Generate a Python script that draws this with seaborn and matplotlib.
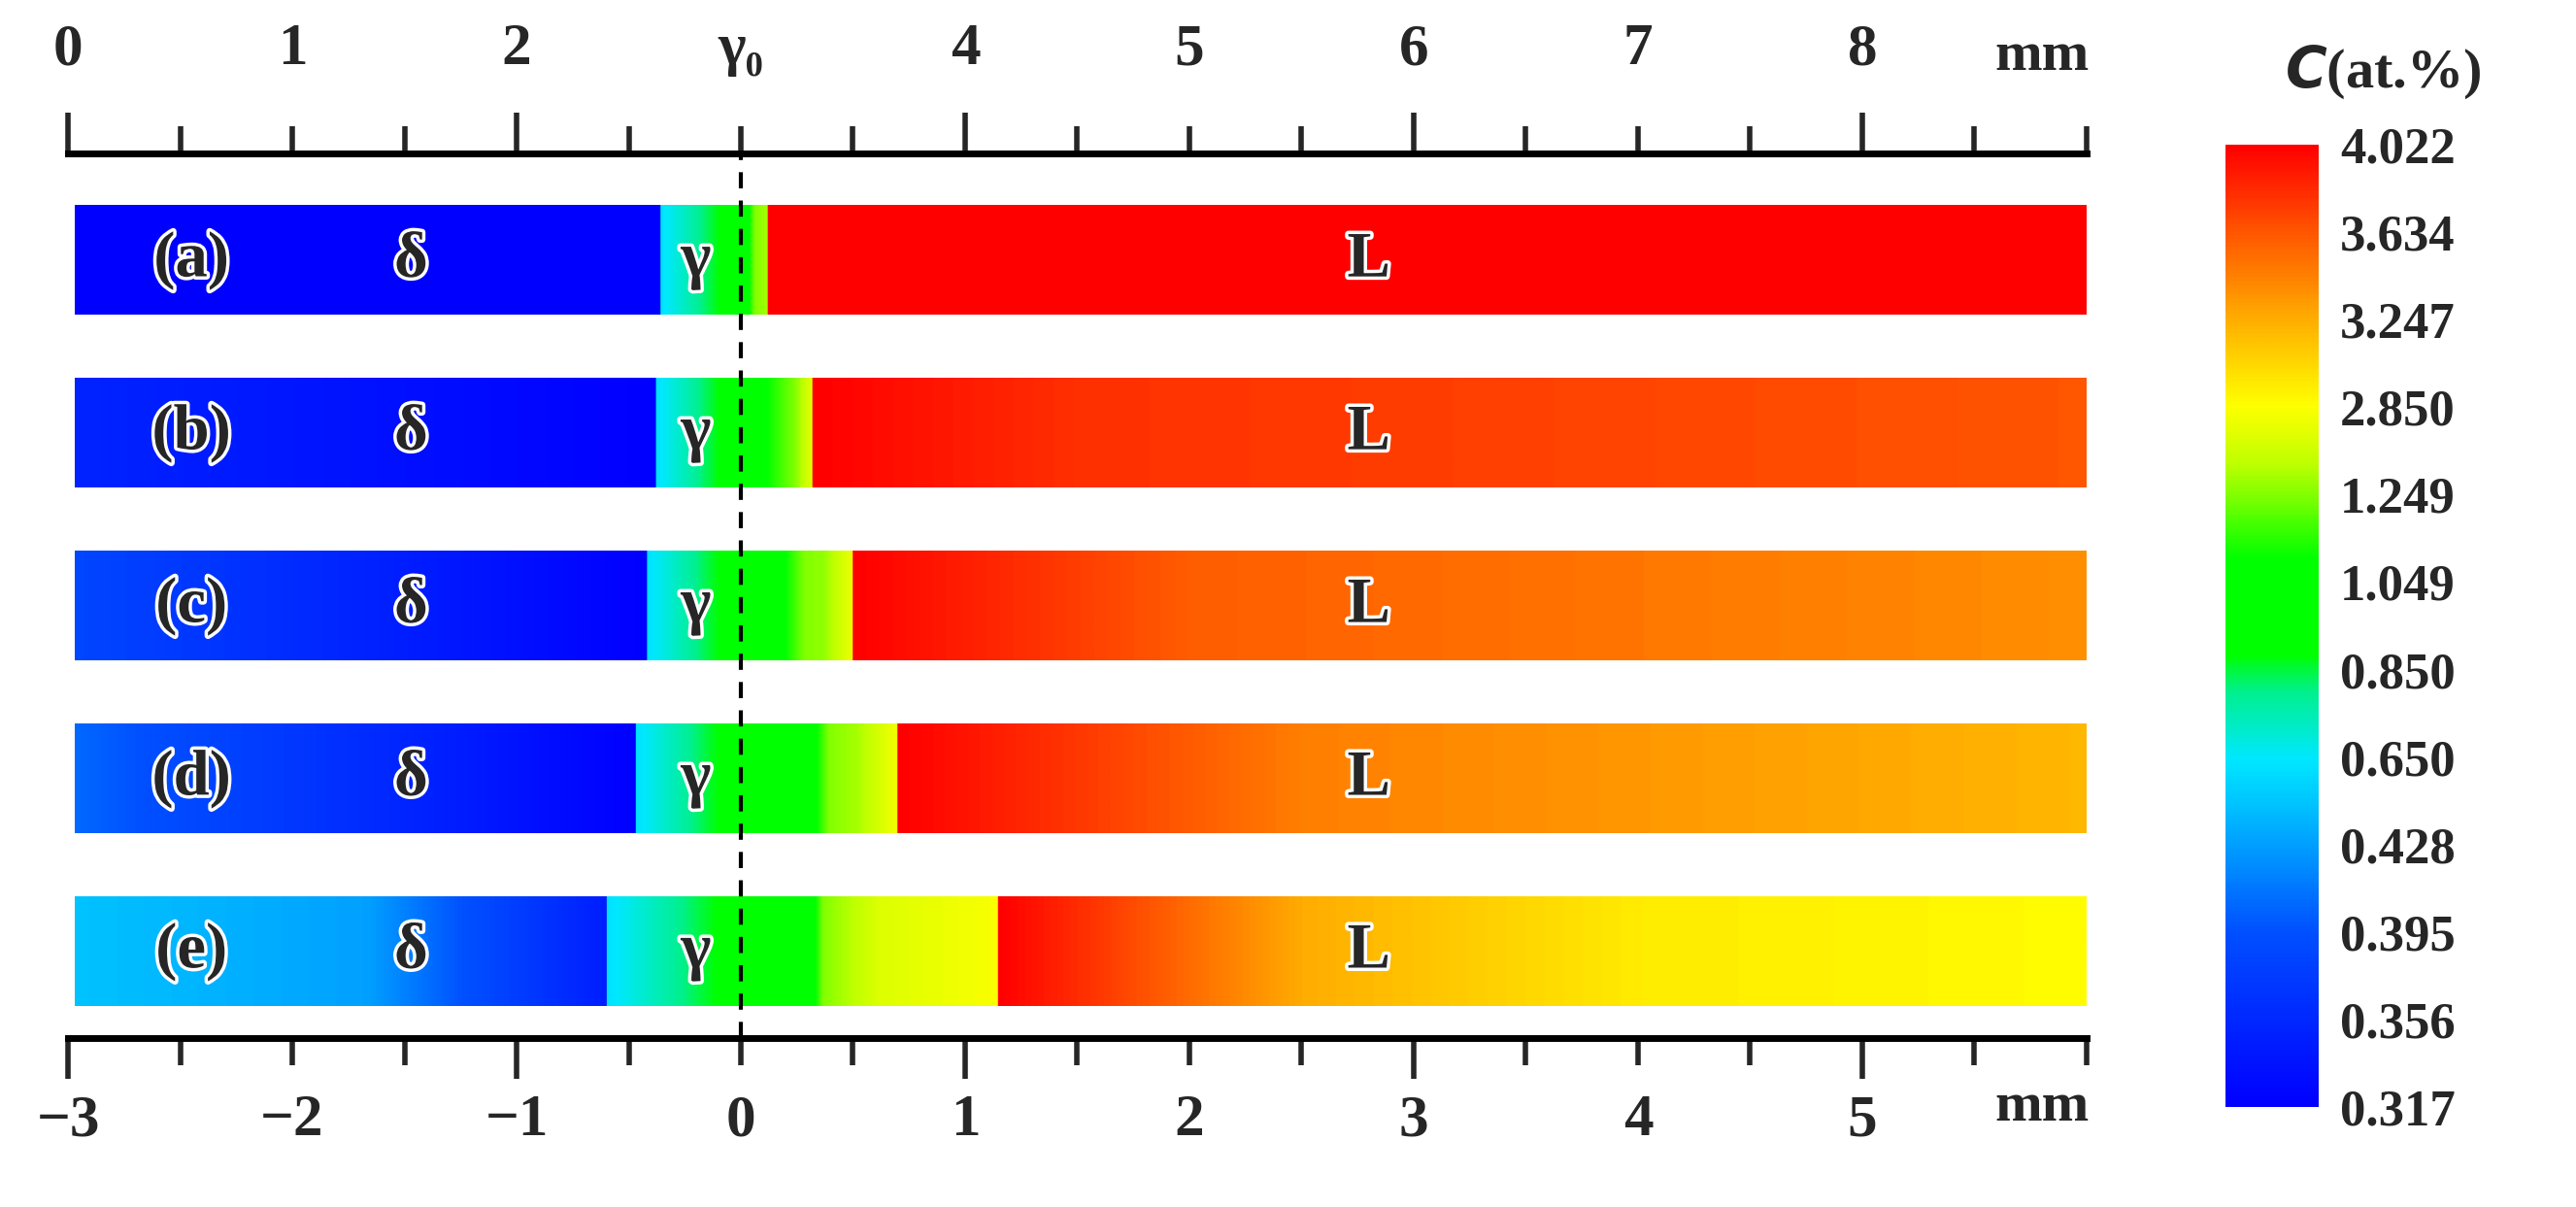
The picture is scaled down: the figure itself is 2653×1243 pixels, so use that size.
import numpy as np
import seaborn as sns
import matplotlib.pyplot as plt
import matplotlib.patheffects as pe
from matplotlib.colors import LinearSegmentedColormap

sns.set_theme(style="white")
plt.rcParams['font.family'] = ['Liberation Serif', 'DejaVu Serif']
plt.rcParams['font.weight'] = 'bold'

# colorbar tick values (unevenly spaced, equal spacing on the bar)
cbar_levels = [0.317, 0.356, 0.395, 0.428, 0.650, 0.850, 1.049, 1.249, 2.850, 3.247, 3.634, 4.022]

panels = ['(a)', '(b)', '(c)', '(d)', '(e)']

# concentration knots along each bar (x in mm, C in at.%), phase boundaries repeated
bar_x = [
    [-3.0, -0.38, -0.38, -0.1, 0.0, 0.1, 0.1, 6.0],
    [-3.0, -0.40, -0.40, -0.1, 0.05, 0.22, 0.30, 0.30, 1.5, 6.0],
    [-3.0, -0.44, -0.44, -0.1, 0.15, 0.35, 0.48, 0.48, 2.0, 6.0],
    [-3.0, -0.49, -0.49, -0.1, 0.30, 0.50, 0.68, 0.68, 2.5, 6.0],
    [-3.0, -0.62, -0.62, -0.1, 0.30, 0.60, 1.13, 1.13, 2.5, 4.0, 6.0],
]
bar_c = [
    [0.317, 0.317, 0.62, 0.90, 1.00, 1.60, 4.022, 4.022],
    [0.352, 0.317, 0.62, 0.90, 1.05, 1.25, 2.50, 4.022, 3.80, 3.634],
    [0.385, 0.317, 0.62, 0.90, 1.05, 1.40, 2.60, 4.022, 3.60, 3.38],
    [0.405, 0.317, 0.62, 0.90, 1.05, 1.60, 2.70, 4.022, 3.45, 3.20],
    [0.530, 0.345, 0.62, 0.90, 1.05, 2.30, 2.80, 4.022, 3.25, 2.95, 2.87],
]

cmap = LinearSegmentedColormap.from_list('cbar', [
    (0.00, '#0000ff'), (0.18, '#0050ff'), (0.30, '#00b8ff'), (0.36, '#00e8ff'),
    (0.43, '#00f090'), (0.47, '#00ff00'), (0.57, '#00ff00'), (0.67, '#c0ff00'),
    (0.73, '#ffff00'), (0.80, '#ffc000'), (0.90, '#ff6000'), (1.00, '#ff0000')])
lvl_idx = np.arange(len(cbar_levels))


def to_level(c):
    return np.interp(c, cbar_levels, lvl_idx) / lvl_idx[-1]


fig = plt.figure(figsize=(26.53, 12.43), dpi=100)
ax = fig.add_axes([0.0264, 0.14, 0.7836, 0.733])
ax.set_xlim(-3, 6)
ax.set_ylim(4.50, -0.62)

xs = np.linspace(-3, 6, 1800)
stroke = [pe.withStroke(linewidth=5, foreground='white')]
for i, name in enumerate(panels):
    c = np.interp(xs, bar_x[i], bar_c[i])
    img = cmap(to_level(c))[np.newaxis, :, :]
    ax.imshow(img, extent=(-2.97, 6, i + 0.315, i - 0.315), aspect='auto',
              interpolation='bilinear', zorder=1)
    ax.text(-2.45, i, name, fontsize=48, ha='center', va='center',
            path_effects=stroke, zorder=4)
    ax.text(-1.47, i, 'δ', fontsize=48, ha='center', va='center',
            path_effects=stroke, zorder=4)
    ax.text(-0.2, i, 'γ', fontsize=48, ha='center', va='center',
            path_effects=stroke, zorder=4)
    ax.text(2.8, i, 'L', fontsize=48, ha='center', va='center',
            path_effects=stroke, zorder=4)

ax.axvline(0, color='black', lw=3, ls=(0, (4, 3)), zorder=3)

for s in ['left', 'right']:
    ax.spines[s].set_visible(False)
for s in ['top', 'bottom']:
    ax.spines[s].set_linewidth(5)
    ax.spines[s].set_color('black')
ax.set_yticks([])

# bottom axis
ax.set_xticks([-3, -1, 1, 3, 5])
ax.set_xticks(np.arange(-3, 6.01, 0.5), minor=True)
ax.set_xticklabels([])
ax.tick_params(axis='x', which='major', direction='out', length=30, width=4,
               bottom=True, top=False)
ax.tick_params(axis='x', which='minor', direction='out', length=20, width=4,
               bottom=True, top=False)
for v in range(-3, 6):
    ax.text(v, 4.98, str(v).replace('-', '−'), fontsize=44, ha='center', va='center')
ax.text(5.8, 4.90, 'mm', fontsize=42, ha='center', va='center')

# top axis (shifted by 3 mm)
top = ax.secondary_xaxis('top', functions=(lambda x: x + 3, lambda x: x - 3))
top.spines['top'].set_linewidth(5)
top.set_xticks([0, 2, 4, 6, 8])
top.set_xticks(np.arange(0, 9.01, 0.5), minor=True)
top.set_xticklabels([])
top.tick_params(which='major', direction='out', length=30, width=4)
top.tick_params(which='minor', direction='out', length=20, width=4)
for v in range(0, 9):
    lab = 'γ₀' if v == 3 else str(v)
    ax.text(v - 3, -1.22, lab, fontsize=44, ha='center', va='center')
ax.text(5.8, -1.18, 'mm', fontsize=42, ha='center', va='center')

# colorbar
cax = fig.add_axes([0.864, 0.083, 0.036, 0.797])
grad = np.linspace(0, 1, 500)[:, np.newaxis]
cax.imshow(grad, cmap=cmap, aspect='auto', origin='lower', extent=(0, 1, 0, 1))
cax.set_xticks([])
cax.set_yticks(lvl_idx / lvl_idx[-1])
cax.set_yticklabels([f'{v:.3f}' for v in cbar_levels])
cax.yaxis.tick_right()
cax.tick_params(axis='y', length=0, labelsize=38, pad=16)
for s in cax.spines.values():
    s.set_visible(False)
fig.text(0.925, 0.94, '$\\mathit{C}$(at.%)', fontsize=42, ha='center', va='center',
         fontweight='bold')

fig.savefig('out.png', dpi=100)
